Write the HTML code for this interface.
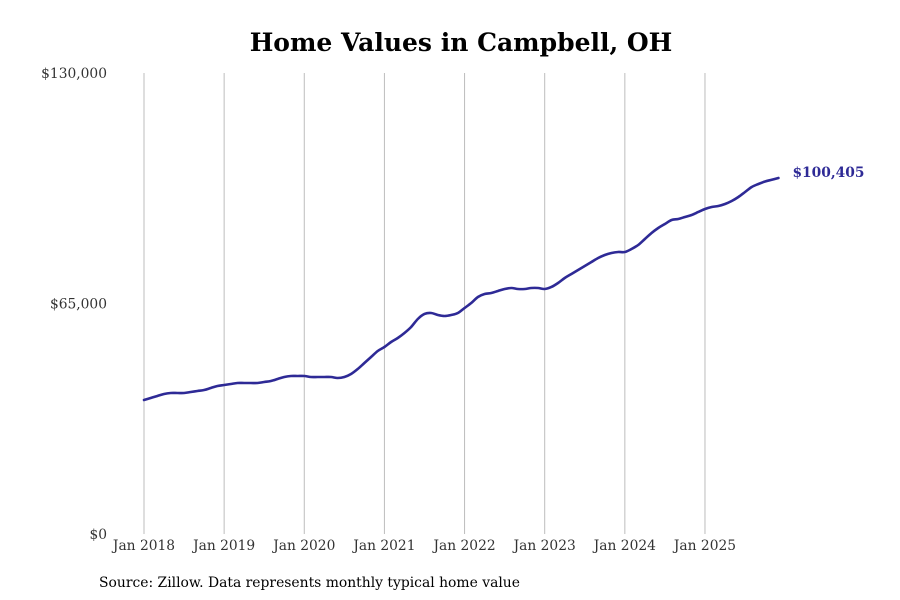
<!DOCTYPE html>
<html><head><meta charset="utf-8"><style>
body{margin:0;background:#fff;}
svg{display:block;font-family:"DejaVu Serif","Liberation Serif",serif;}
</style></head><body>
<svg id="chart" width="900" height="600">
<text x="461" y="51" text-anchor="middle" font-size="25" font-weight="bold" fill="#000">Home Values in Campbell, OH</text>
<g id="grid"></g><g id="yaxis"></g><g id="xaxis"></g><g id="series"></g>
<text x="99" y="587" font-size="13.9" fill="#000">Source: Zillow. Data represents monthly typical home value</text>
</svg>
<script>
const xTickLabels=["Jan 2018","Jan 2019","Jan 2020","Jan 2021","Jan 2022","Jan 2023","Jan 2024","Jan 2025"];
const yTickValues=[0,65000,130000];
const yTickLabels=["$0","$65,000","$130,000"];
const values2018=[37788,38352,38916,39480,39762,39762,39762,40044,40326,40608,41172,41736];
const values2019=[42018,42300,42582,42582,42582,42582,42864,43146,43710,44274,44556,44556];
const values2020=[44556,44274,44274,44274,44274,43992,44274,45120,46530,48222,49914,51606];
const values2021=[52734,54144,55272,56682,58374,60630,62040,62322,61758,61476,61758,62322];
const values2022=[63732,65142,66834,67680,67962,68526,69090,69372,69090,69090,69372,69372];
const values2023=[69090,69654,70782,72192,73320,74448,75576,76704,77832,78678,79242,79524];
const values2024=[79524,80370,81498,83190,84882,86292,87420,88548,88830,89394,89958,90804];
const values2025=[91650,92214,92496,93060,93906,95034,96444,97854,98700,99400,99900,100405];
const values=[].concat(values2018,values2019,values2020,values2021,values2022,values2023,values2024,values2025);
const lastLabel="$100,405";
const NS="http://www.w3.org/2000/svg";
const x=m=>144+m*(80.14/12);
const y=v=>534-v*(461/130000);
function mk(tag,attrs,parent,text){const e=document.createElementNS(NS,tag);for(const k in attrs)e.setAttribute(k,attrs[k]);if(text!==undefined)e.textContent=text;parent.appendChild(e);return e;}
const grid=document.getElementById('grid'),ya=document.getElementById('yaxis'),xa=document.getElementById('xaxis'),se=document.getElementById('series');
xTickLabels.forEach((l,i)=>{
  const g=mk('line',{x1:x(i*12),x2:x(i*12),y1:73,y2:534,stroke:'#bdbdbd','stroke-width':1},grid);
  
  
  const t=mk('text',{x:x(i*12),y:550,'text-anchor':'middle','font-size':13.8,fill:'#333'},xa,l);
  
  
});
yTickValues.forEach((v,i)=>{
  const t=mk('text',{x:107,y:y(v)+5,'text-anchor':'end','font-size':13.8,fill:'#333'},ya,yTickLabels[i]);
  
  
});
const pts=values.map((v,i)=>[x(i),y(v)]);
let d='M'+pts[0][0]+','+pts[0][1];
for(let i=0;i<pts.length-1;i++){
  const p0=pts[Math.max(i-1,0)],p1=pts[i],p2=pts[i+1],p3=pts[Math.min(i+2,pts.length-1)];
  const c1=[p1[0]+(p2[0]-p0[0])/6,p1[1]+(p2[1]-p0[1])/6],c2=[p2[0]-(p3[0]-p1[0])/6,p2[1]-(p3[1]-p1[1])/6];
  d+=' C'+c1+' '+c2+' '+p2;
}
const path=mk('path',{d:d,fill:'none',stroke:'#2e2a96','stroke-width':2.6,'stroke-linecap':'round'},se);


const last=pts[pts.length-1];
const lbl=mk('text',{x:last[0]+14,y:last[1]-1,'font-size':13.8,'font-weight':'bold',fill:'#2e2a96'},se,lastLabel);


</script>
</body></html>
